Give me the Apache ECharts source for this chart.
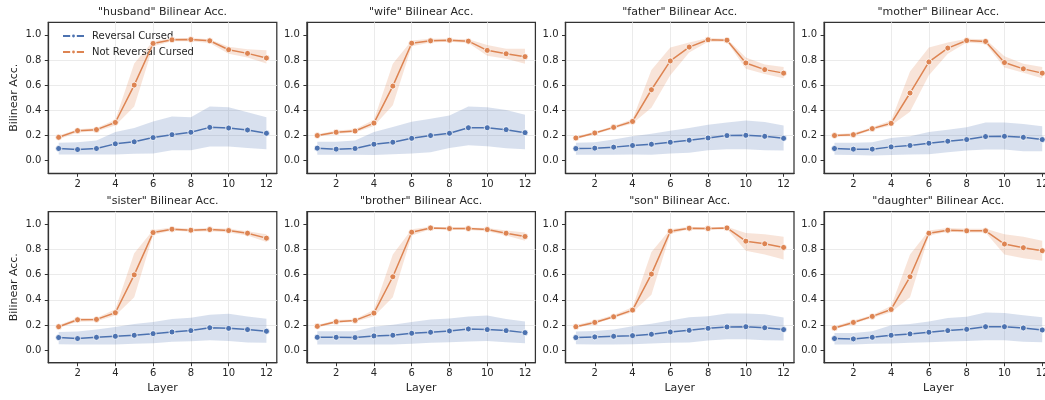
<!DOCTYPE html>
<html><head><meta charset="utf-8">
<script src="https://cdn.jsdelivr.net/npm/echarts@6/dist/echarts.min.js"></script>
<style>html,body{margin:0;padding:0;background:#fff}#c{width:1045px;height:400px}</style>
</head><body><div id="c"></div>
<script>
const layers = [1,2,3,4,5,6,7,8,9,10,11,12];
const xTicks = [2,4,6,8,10,12];
const yTicks = [0,0.2,0.4,0.6,0.8,1.0];
const seriesNames = ['Reversal Cursed','Not Reversal Cursed'];
const words = ['husband','wife','father','mother','sister','brother','son','daughter'];

// Reversal Cursed (mean, lower, upper) and Not Reversal Cursed (mean, lower, upper)
const husbandRev   = [0.097,0.089,0.097,0.134,0.150,0.184,0.207,0.226,0.265,0.260,0.244,0.218];
const husbandRevLo = [0.050,0.050,0.050,0.050,0.055,0.058,0.084,0.084,0.113,0.113,0.102,0.092];
const husbandRevHi = [0.142,0.147,0.160,0.228,0.260,0.312,0.352,0.346,0.430,0.425,0.386,0.346];
const husbandNot   = [0.186,0.239,0.247,0.304,0.601,0.932,0.961,0.963,0.953,0.882,0.853,0.816];
const husbandNotLo = [0.170,0.225,0.235,0.280,0.430,0.910,0.950,0.950,0.935,0.850,0.820,0.772];
const husbandNotHi = [0.200,0.250,0.260,0.325,0.772,0.950,0.975,0.975,0.965,0.905,0.885,0.877];

const wifeRev   = [0.100,0.092,0.097,0.131,0.147,0.178,0.200,0.218,0.262,0.262,0.247,0.223];
const wifeRevLo = [0.047,0.047,0.047,0.045,0.052,0.058,0.068,0.102,0.123,0.115,0.100,0.092];
const wifeRevHi = [0.150,0.150,0.160,0.228,0.268,0.310,0.333,0.360,0.430,0.425,0.404,0.365];
const wifeNot   = [0.200,0.226,0.236,0.299,0.593,0.934,0.953,0.958,0.950,0.877,0.850,0.827];
const wifeNotLo = [0.190,0.215,0.225,0.275,0.440,0.910,0.940,0.945,0.935,0.835,0.810,0.770];
const wifeNotHi = [0.210,0.240,0.250,0.325,0.770,0.955,0.970,0.970,0.965,0.920,0.890,0.890];

const fatherRev   = [0.097,0.100,0.108,0.121,0.131,0.147,0.163,0.181,0.200,0.202,0.194,0.178];
const fatherRevLo = [0.047,0.047,0.047,0.050,0.047,0.058,0.063,0.084,0.092,0.092,0.084,0.081];
const fatherRevHi = [0.142,0.147,0.168,0.194,0.215,0.239,0.260,0.286,0.304,0.320,0.307,0.280];
const fatherNot   = [0.181,0.220,0.265,0.312,0.564,0.793,0.903,0.961,0.958,0.777,0.724,0.696];
const fatherNotLo = [0.170,0.210,0.255,0.295,0.420,0.680,0.860,0.945,0.945,0.730,0.690,0.655];
const fatherNotHi = [0.195,0.230,0.275,0.330,0.720,0.900,0.940,0.975,0.970,0.820,0.765,0.745];

const motherRev   = [0.097,0.092,0.092,0.110,0.121,0.139,0.155,0.168,0.192,0.194,0.186,0.168];
const motherRevLo = [0.047,0.045,0.042,0.045,0.050,0.052,0.068,0.081,0.089,0.089,0.076,0.076];
const motherRevHi = [0.142,0.142,0.147,0.181,0.194,0.228,0.247,0.265,0.304,0.304,0.291,0.273];
const motherNot   = [0.200,0.207,0.255,0.297,0.538,0.785,0.895,0.955,0.948,0.780,0.730,0.696];
const motherNotLo = [0.190,0.195,0.245,0.280,0.390,0.680,0.850,0.940,0.930,0.740,0.700,0.655];
const motherNotHi = [0.210,0.220,0.265,0.320,0.710,0.900,0.940,0.970,0.965,0.830,0.770,0.745];

const sisterRev   = [0.100,0.092,0.102,0.110,0.118,0.131,0.144,0.155,0.178,0.173,0.163,0.150];
const sisterRevLo = [0.047,0.045,0.045,0.045,0.050,0.055,0.066,0.071,0.079,0.073,0.060,0.058];
const sisterRevHi = [0.144,0.147,0.163,0.184,0.207,0.223,0.247,0.257,0.281,0.289,0.268,0.249];
const sisterNot   = [0.186,0.241,0.244,0.297,0.598,0.934,0.961,0.953,0.958,0.950,0.929,0.890];
const sisterNotLo = [0.175,0.225,0.230,0.275,0.420,0.915,0.950,0.940,0.945,0.935,0.910,0.860];
const sisterNotHi = [0.200,0.255,0.255,0.325,0.770,0.955,0.975,0.965,0.970,0.965,0.945,0.920];

const brotherRev   = [0.102,0.102,0.100,0.113,0.118,0.134,0.142,0.152,0.168,0.163,0.155,0.139];
const brotherRevLo = [0.045,0.045,0.045,0.045,0.045,0.050,0.058,0.063,0.068,0.073,0.063,0.055];
const brotherRevHi = [0.150,0.150,0.150,0.186,0.202,0.223,0.244,0.252,0.268,0.276,0.247,0.228];
const brotherNot   = [0.189,0.226,0.236,0.294,0.583,0.937,0.971,0.966,0.966,0.958,0.929,0.903];
const brotherNotLo = [0.180,0.215,0.225,0.270,0.420,0.910,0.960,0.955,0.955,0.945,0.910,0.870];
const brotherNotHi = [0.200,0.240,0.245,0.320,0.760,0.960,0.980,0.975,0.975,0.970,0.950,0.935];

const sonRev   = [0.100,0.105,0.110,0.115,0.126,0.144,0.157,0.173,0.184,0.186,0.178,0.163];
const sonRevLo = [0.047,0.045,0.045,0.047,0.052,0.058,0.060,0.076,0.087,0.087,0.079,0.076];
const sonRevHi = [0.147,0.152,0.163,0.189,0.210,0.236,0.262,0.270,0.291,0.291,0.286,0.260];
const sonNot   = [0.186,0.220,0.265,0.318,0.604,0.945,0.969,0.966,0.971,0.866,0.845,0.816];
const sonNotLo = [0.175,0.210,0.255,0.300,0.440,0.925,0.960,0.955,0.960,0.790,0.760,0.720];
const sonNotHi = [0.200,0.235,0.280,0.340,0.780,0.960,0.980,0.975,0.980,0.930,0.920,0.900];

const daughterRev   = [0.092,0.089,0.102,0.118,0.129,0.142,0.155,0.165,0.186,0.186,0.176,0.160];
const daughterRevLo = [0.045,0.045,0.050,0.052,0.058,0.063,0.068,0.073,0.079,0.079,0.066,0.063];
const daughterRevHi = [0.136,0.136,0.150,0.197,0.207,0.228,0.255,0.265,0.299,0.294,0.278,0.262];
const daughterNot   = [0.176,0.220,0.268,0.323,0.583,0.929,0.953,0.948,0.948,0.843,0.814,0.790];
const daughterNotLo = [0.165,0.210,0.255,0.300,0.420,0.910,0.940,0.935,0.935,0.760,0.730,0.710];
const daughterNotHi = [0.190,0.235,0.280,0.350,0.760,0.950,0.970,0.965,0.965,0.920,0.900,0.870];

const panels = [
  [husbandRev, husbandRevLo, husbandRevHi, husbandNot, husbandNotLo, husbandNotHi],
  [wifeRev, wifeRevLo, wifeRevHi, wifeNot, wifeNotLo, wifeNotHi],
  [fatherRev, fatherRevLo, fatherRevHi, fatherNot, fatherNotLo, fatherNotHi],
  [motherRev, motherRevLo, motherRevHi, motherNot, motherNotLo, motherNotHi],
  [sisterRev, sisterRevLo, sisterRevHi, sisterNot, sisterNotLo, sisterNotHi],
  [brotherRev, brotherRevLo, brotherRevHi, brotherNot, brotherNotLo, brotherNotHi],
  [sonRev, sonRevLo, sonRevHi, sonNot, sonNotLo, sonNotHi],
  [daughterRev, daughterRevLo, daughterRevHi, daughterNot, daughterNotLo, daughterNotHi]
];

const BLUE = '#4c72b0', ORANGE = '#dd8452';
const BLUE_BAND = 'rgba(76,114,176,0.22)', ORANGE_BAND = 'rgba(221,132,82,0.22)';
const FONT = 'DejaVu Sans';
const TXT = '#262626';

const PL = 48.3, PSTEP = 258.6, PW = 228.5, PH = 151;
const ROW_TOP = [22.3, 211.7];

const grids = [], xAxes = [], yAxes = [], series = [], graphics = [];

function band(idx, lo, hi, color) {
  return {
    type: 'custom', xAxisIndex: idx, yAxisIndex: idx, silent: true, z: 1,
    animation: false,
    data: layers.map((x, i) => [x, lo[i], hi[i]]),
    encode: { x: 0, y: [1, 2] },
    renderItem: function (params, api) {
      if (params.dataIndex !== 0) return null;
      const pts = [];
      for (let i = 0; i < layers.length; i++) pts.push(api.coord([layers[i], hi[i]]));
      for (let i = layers.length - 1; i >= 0; i--) pts.push(api.coord([layers[i], lo[i]]));
      return { type: 'polygon', shape: { points: pts }, style: { fill: color } };
    }
  };
}
function line(idx, name, vals, color, z) {
  return {
    type: 'line', name: name, xAxisIndex: idx, yAxisIndex: idx, z: z,
    animation: false,
    data: layers.map((x, i) => [x, vals[i]]),
    symbol: 'circle', symbolSize: 6, showSymbol: true,
    lineStyle: { color: color, width: 1.5 },
    itemStyle: { color: color, borderColor: '#fff', borderWidth: 0.8 }
  };
}

panels.forEach((p, i) => {
  const col = i % 4, row = Math.floor(i / 4);
  const left = PL + col * PSTEP, top = ROW_TOP[row];
  grids.push({ left: left, top: top, width: PW, height: PH, show: true,
    outerBoundsMode: 'none',
    borderColor: '#333', borderWidth: 1.25, backgroundColor: 'transparent', containLabel: false });
  xAxes.push({
    type: 'value', gridIndex: i, min: 0.45, max: 12.55, splitNumber: 6,
    axisLine: { show: true, onZero: false, lineStyle: { color: '#333', width: 1.25 } },
    axisTick: { show: true, length: 3.5, customValues: xTicks, lineStyle: { color: '#333', width: 1 } },
    axisLabel: { customValues: xTicks, fontSize: 10, color: TXT, margin: 6, fontFamily: FONT },
    splitLine: { show: true, showMinLine: false, showMaxLine: false, lineStyle: { color: '#ebebeb', width: 1 } },
    name: row === 1 ? 'Layer' : '', nameLocation: 'middle', nameGap: 20,
    nameTextStyle: { fontSize: 11, color: TXT, fontFamily: FONT }
  });
  yAxes.push({
    type: 'value', gridIndex: i, min: -0.1, max: 1.1, splitNumber: 6,
    axisLine: { show: true, onZero: false, lineStyle: { color: '#333', width: 1.25 } },
    axisTick: { show: true, length: 3.5, customValues: yTicks, lineStyle: { color: '#333', width: 1 } },
    axisLabel: { customValues: yTicks, fontSize: 10, color: TXT, margin: 7, fontFamily: FONT,
      formatter: v => v.toFixed(1) },
    splitLine: { show: true, showMinLine: false, showMaxLine: false, lineStyle: { color: '#ebebeb', width: 1 } },
    name: col === 0 ? 'Bilinear Acc.' : '', nameLocation: 'middle', nameGap: 29,
    nameTextStyle: { fontSize: 11, color: TXT, fontFamily: FONT }
  });
  series.push(band(i, p[1], p[2], BLUE_BAND));
  series.push(line(i, seriesNames[0], p[0], BLUE, 3));
  series.push(band(i, p[4], p[5], ORANGE_BAND));
  series.push(line(i, seriesNames[1], p[3], ORANGE, 4));
  graphics.push({
    type: 'text', x: left + PW / 2, y: top - 16,
    style: { text: '"' + words[i] + '" Bilinear Acc.', fill: TXT, font: '11px "DejaVu Sans"', textAlign: 'center', textVerticalAlign: 'top' }
  });
});

const chart = echarts.init(document.getElementById('c'), null, { renderer: 'canvas' });
chart.setOption({
  animation: false,
  backgroundColor: '#fff',
  textStyle: { fontFamily: FONT },
  grid: grids, xAxis: xAxes, yAxis: yAxes, series: series, graphic: graphics,
  legend: {
    data: seriesNames, orient: 'vertical', left: 62, top: 31, itemGap: 6,
    itemWidth: 21, itemHeight: 6, padding: 0,
    textStyle: { fontSize: 10, color: TXT, fontFamily: FONT, padding: [0, 0, 0, 3] }
  }
});
</script></body></html>
